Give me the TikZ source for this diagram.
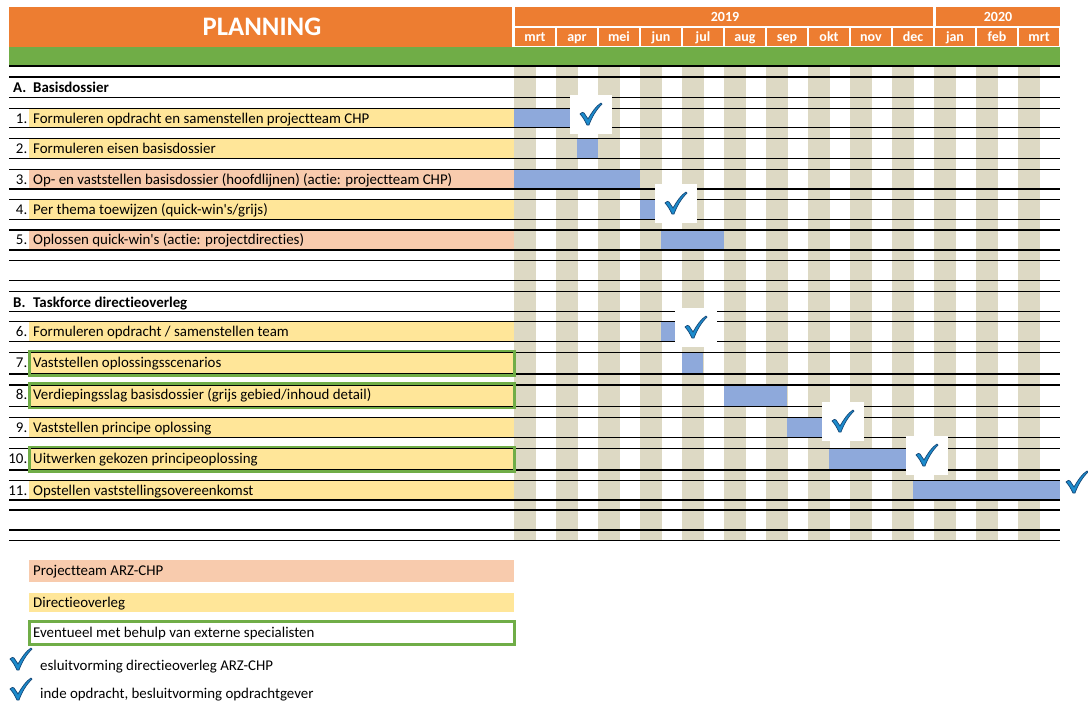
\documentclass[tikz,border=0pt]{standalone}
\usepackage{fontspec}
\setmainfont{Carlito}[Ligatures={NoCommon,NoContextual}]
\definecolor{oranje}{RGB}{237,125,49}
\definecolor{groen}{RGB}{112,173,71}
\definecolor{geel}{RGB}{255,230,153}
\definecolor{zalm}{RGB}{248,203,173}
\definecolor{balk}{RGB}{142,169,219}
\definecolor{streep}{RGB}{221,217,196}
\definecolor{vinkblauw}{RGB}{28,140,205}
\definecolor{vinkrand}{RGB}{22,72,120}
\tikzset{
  kop/.style={fill=oranje},
  koptekst/.style={anchor=base, inner sep=0pt, text=white, font=\bfseries\fontsize{14}{16}\selectfont},
  tekst/.style={anchor=base west, inner sep=0pt, font=\fontsize{14.9}{17}\selectfont},
  nummer/.style={anchor=base east, inner sep=0pt, font=\fontsize{14.9}{17}\selectfont},
  sectie/.style={tekst, font=\bfseries\fontsize{14.9}{17}\selectfont},
  kader/.style={draw=groen, line width=2.6pt},
  lijn/.style={line width=1.1pt},
  vink/.pic={
    \filldraw[fill=vinkblauw, draw=vinkrand, line width=0.7pt]
      (-11,0) .. controls (-9,-2) and (-8,-2) .. (-7,-1) -- (-3,5)
      .. controls (1,-2) and (5,-8) .. (10,-11) -- (11,-10)
      .. controls (5,-4) and (1,3) .. (-2,11) -- (-4,11)
      .. controls (-6,7) and (-8,3) .. cycle;
  }
}
\begin{document}
\begin{tikzpicture}[x=1pt,y=-1pt]
  \useasboundingbox (0,0) rectangle (1088,704);
  % kop
  \fill[kop] (9,7) rectangle (512,46.5);
  \node[anchor=base, inner sep=0pt, text=white, font=\bfseries\fontsize{26.7}{30}\selectfont] (planning) at (262,35) {PLANNING};
  \fill[kop] (515,7) rectangle (933,26);
  \fill[kop] (936,7) rectangle (1060,26);
  \node[koptekst] (j2019) at (725,21.5) {2019};
  \node[koptekst] (j2020) at (998,21.5) {2020};
  \foreach \m [count=\i from 0] in {mrt,apr,mei,jun,jul,aug,sep,okt,nov,dec,jan,feb,mrt}
  {
    \fill[kop] (514+42*\i+1,28) rectangle (514+42*\i+41,45.5);
    \node[koptekst] (m\i) at (514+42*\i+21,41.5) {\m};
  }
  \fill[groen] (9,46.5) rectangle (1060,66);
  % strepen per maand
  \foreach \i in {0,...,12}
    \fill[streep] (514+42*\i,66) rectangle (514+42*\i+21.5,541);
  % secties
  \node[sectie] (secA) at (13,92.3) {A.};
  \node[sectie] (secAt) at (33,92.3) {Basisdossier};
  \node[sectie] (secB) at (13,307) {B.};
  \node[sectie] (secBt) at (33,307) {Taskforce directieoverleg};
  % taken met balken (halve maanden)
  \foreach \n/\t/\b/\kleur/\van/\tot/\tekst in {
    1/108.3/127.3/geel/0/4/{Formuleren opdracht en samenstellen projectteam CHP},
    2/138.3/158.3/geel/3/4/{Formuleren eisen basisdossier},
    3/169.3/189/zalm/0/6/{Op- en vaststellen basisdossier (hoofdlijnen) (actie: projectteam CHP)},
    4/199.3/219.3/geel/6/7/{Per thema toewijzen (quick-win\textquotesingle s/grijs)},
    5/230/250/zalm/7/10/{Oplossen quick-win\textquotesingle s (actie: projectdirecties)},
    6/321.7/341.7/geel/7/8/{Formuleren opdracht / samenstellen team},
    7/352.3/374/geel/8/9/{Vaststellen oplossingsscenarios},
    8/385/406.7/geel/10/13/{Verdiepingsslag basisdossier (grijs gebied/inhoud detail)},
    9/417.3/437.3/geel/13/15/{Vaststellen principe oplossing},
    10/448.3/470/geel/15/19/{Uitwerken gekozen principeoplossing},
    11/480.7/500/geel/19/26/{Opstellen vaststellingsovereenkomst}}
  {
    \fill[\kleur] (29,\t) rectangle (514,\b);
    \fill[balk] (514+21*\van,\t) rectangle (514+21*\tot,\b);
    \node[nummer] (n\n) at (27.5,\t+14.9) {\n.};
    \node[tekst] (t\n) at (33,\t+14.9) {\tekst};
  }
  % lijnen
  \foreach \y in {66,77,97.3,108.3,127.3,138.3,158.3,169.3,189,199.3,219.3,230,250,260.7,280.7,
                  291.7,311.5,321.7,341.7,352.3,374,385,406.7,417.3,437.3,448.3,470,480.7,500,510,530,540.7}
    \draw[lijn] (9,\y) -- (1060,\y);
  \foreach \t/\b in {352.3/374,385/406.7,448.3/470}
    \draw[kader] (29.3,\t-1.3) rectangle (514.7,\b+1.3);
  % vinken
  \foreach \px/\py in {591/114,676/203,696/327,843/421,927/455}
  {
    \fill[white] (\px-21,\py-19.5) rectangle (\px+21,\py+19.5);
    \pic at (\px,\py) {vink};
  }
  \pic at (1077,482) {vink};
  % legenda
  \fill[zalm] (29,560) rectangle (514,581.7);
  \node[tekst] (lg1) at (33,575.5) {Projectteam ARZ-CHP};
  \fill[geel] (29,592.7) rectangle (514,612.3);
  \node[tekst] (lg2) at (33,607.3) {Directieoverleg};
  \draw[kader] (29.3,621.3) rectangle (514.7,644.5);
  \node[tekst] (lg3) at (33,637.5) {Eventueel met behulp van externe specialisten};
  \pic at (21,659) {vink};
  \node[tekst] (lg4) at (40,670) {esluitvorming directieoverleg ARZ-CHP};
  \pic at (21,689) {vink};
  \node[tekst] (lg5) at (40,698.3) {inde opdracht, besluitvorming opdrachtgever};
\end{tikzpicture}
\end{document}
